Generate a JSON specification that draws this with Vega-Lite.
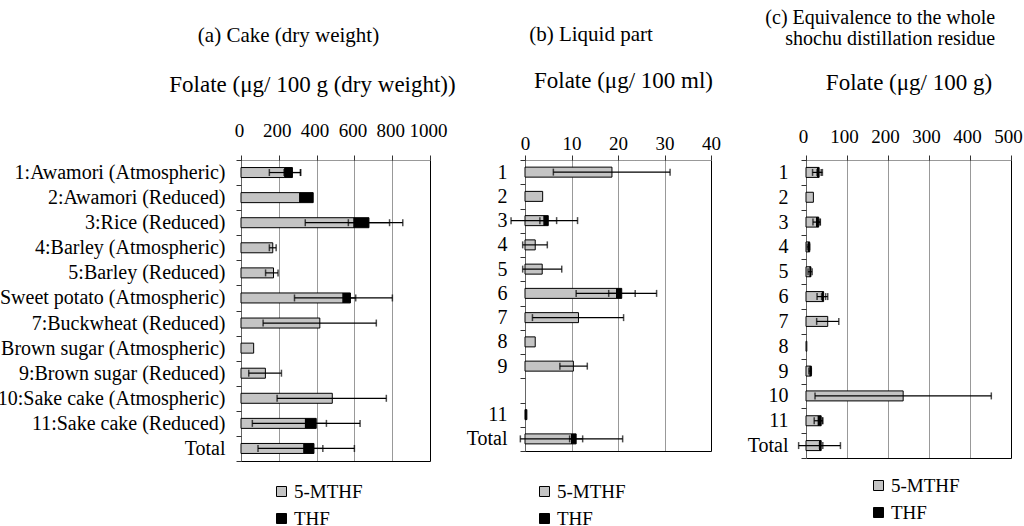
{
  "$schema": "https://vega.github.io/schema/vega-lite/v6.json",
  "padding": {"left": -17, "top": 8, "right": 0, "bottom": 0},
  "background": "white",
  "config": {
    "font": "Liberation Serif",
    "view": {"stroke": null},
    "title": {"font": "Liberation Serif", "fontSize": 21, "fontWeight": "normal", "color": "black"},
    "axis": {"labelFont": "Liberation Serif", "titleFont": "Liberation Serif", "labelColor": "black", "titleColor": "black", "titleFontWeight": "normal"},
    "legend": {"labelFont": "Liberation Serif", "labelFontSize": 19, "labelColor": "black", "symbolType": "square", "symbolSize": 100, "symbolStrokeColor": "black", "symbolStrokeWidth": 1, "rowPadding": 7, "labelOffset": 3, "title": null}
  },
  "datasets": {
    "a": [
      {"cat": "1:Awamori (Atmospheric)", "comp": "5-MTHF", "v": 232, "lo": 150, "hi": 314},
      {"cat": "1:Awamori (Atmospheric)", "comp": "THF", "v": 40, "lo": 228, "hi": 316},
      {"cat": "2:Awamori (Reduced)", "comp": "5-MTHF", "v": 311},
      {"cat": "2:Awamori (Reduced)", "comp": "THF", "v": 71},
      {"cat": "3:Rice (Reduced)", "comp": "5-MTHF", "v": 598, "lo": 340, "hi": 856},
      {"cat": "3:Rice (Reduced)", "comp": "THF", "v": 79, "lo": 568, "hi": 786},
      {"cat": "4:Barley (Atmospheric)", "comp": "5-MTHF", "v": 168, "lo": 150, "hi": 186},
      {"cat": "5:Barley (Reduced)", "comp": "5-MTHF", "v": 172, "lo": 130, "hi": 196},
      {"cat": "6:Sweet potato (Atmospheric)", "comp": "5-MTHF", "v": 540, "lo": 283, "hi": 801},
      {"cat": "6:Sweet potato (Atmospheric)", "comp": "THF", "v": 39, "lo": 547, "hi": 607},
      {"cat": "7:Buckwheat (Reduced)", "comp": "5-MTHF", "v": 417, "lo": 117, "hi": 716},
      {"cat": "8:Brown sugar (Atmospheric)", "comp": "5-MTHF", "v": 67},
      {"cat": "9:Brown sugar (Reduced)", "comp": "5-MTHF", "v": 129, "lo": 41, "hi": 214},
      {"cat": "10:Sake cake (Atmospheric)", "comp": "5-MTHF", "v": 483, "lo": 191, "hi": 769},
      {"cat": "11:Sake cake (Reduced)", "comp": "5-MTHF", "v": 341, "lo": 60, "hi": 630},
      {"cat": "11:Sake cake (Reduced)", "comp": "THF", "v": 57, "lo": 344, "hi": 452},
      {"cat": "Total", "comp": "5-MTHF", "v": 333, "lo": 90, "hi": 600},
      {"cat": "Total", "comp": "THF", "v": 53, "lo": 339, "hi": 433}
    ],
    "b": [
      {"cat": "1", "comp": "5-MTHF", "v": 18.7, "lo": 6.1, "hi": 31.2},
      {"cat": "2", "comp": "5-MTHF", "v": 3.8},
      {"cat": "3", "comp": "5-MTHF", "v": 4.1, "lo": -3.0, "hi": 11.3},
      {"cat": "3", "comp": "THF", "v": 0.9, "lo": 3.2, "hi": 6.8},
      {"cat": "4", "comp": "5-MTHF", "v": 2.2, "lo": -0.5, "hi": 4.8},
      {"cat": "5", "comp": "5-MTHF", "v": 3.7, "lo": -0.5, "hi": 7.9},
      {"cat": "6", "comp": "5-MTHF", "v": 19.7, "lo": 11.0, "hi": 28.3},
      {"cat": "6", "comp": "THF", "v": 1.1, "lo": 18.0, "hi": 23.7},
      {"cat": "7", "comp": "5-MTHF", "v": 11.5, "lo": 1.6, "hi": 21.2},
      {"cat": "8", "comp": "5-MTHF", "v": 2.2},
      {"cat": "9", "comp": "5-MTHF", "v": 10.4, "lo": 7.5, "hi": 13.4},
      {"cat": "11", "comp": "5-MTHF", "v": 0.1},
      {"cat": "11", "comp": "THF", "v": 0.3},
      {"cat": "Total", "comp": "5-MTHF", "v": 10.0, "lo": -1.0, "hi": 21.0},
      {"cat": "Total", "comp": "THF", "v": 1.0, "lo": 9.6, "hi": 12.4}
    ],
    "c": [
      {"cat": "1", "comp": "5-MTHF", "v": 28, "lo": 16, "hi": 40},
      {"cat": "1", "comp": "THF", "v": 4, "lo": 27, "hi": 37},
      {"cat": "2", "comp": "5-MTHF", "v": 18},
      {"cat": "3", "comp": "5-MTHF", "v": 26, "lo": 17, "hi": 35},
      {"cat": "3", "comp": "THF", "v": 5, "lo": 28, "hi": 34},
      {"cat": "4", "comp": "5-MTHF", "v": 6, "lo": 3, "hi": 9},
      {"cat": "4", "comp": "THF", "v": 3},
      {"cat": "5", "comp": "5-MTHF", "v": 10, "lo": 5, "hi": 15},
      {"cat": "5", "comp": "THF", "v": 2},
      {"cat": "6", "comp": "5-MTHF", "v": 40, "lo": 27, "hi": 53},
      {"cat": "6", "comp": "THF", "v": 3, "lo": 38, "hi": 48},
      {"cat": "7", "comp": "5-MTHF", "v": 53, "lo": 26, "hi": 80},
      {"cat": "8", "comp": "5-MTHF", "v": 2},
      {"cat": "9", "comp": "5-MTHF", "v": 10, "lo": 7, "hi": 13},
      {"cat": "9", "comp": "THF", "v": 3},
      {"cat": "10", "comp": "5-MTHF", "v": 237, "lo": 22, "hi": 452},
      {"cat": "11", "comp": "5-MTHF", "v": 30, "lo": 20, "hi": 40},
      {"cat": "11", "comp": "THF", "v": 7, "lo": 33, "hi": 41},
      {"cat": "Total", "comp": "5-MTHF", "v": 33, "lo": -18, "hi": 84},
      {"cat": "Total", "comp": "THF", "v": 4, "lo": 33, "hi": 41}
    ]
  },
  "hconcat": [
    {
      "width": 189, "height": 301,
      "data": {"name": "a"},
      "title": {"text": "(a) Cake (dry weight)", "anchor": "middle", "dx": -47, "offset": 27},
      "layer": [
        {
          "mark": {"type": "bar", "size": 10, "stroke": "black", "strokeWidth": 1},
          "encoding": {
            "y": {"field": "cat", "type": "nominal", "sort": null,
              "scale": {"domain": ["1:Awamori (Atmospheric)", "2:Awamori (Reduced)", "3:Rice (Reduced)", "4:Barley (Atmospheric)", "5:Barley (Reduced)", "6:Sweet potato (Atmospheric)", "7:Buckwheat (Reduced)", "8:Brown sugar (Atmospheric)", "9:Brown sugar (Reduced)", "10:Sake cake (Atmospheric)", "11:Sake cake (Reduced)", "Total"], "paddingInner": 0, "paddingOuter": 0},
              "axis": {"title": null, "labelFontSize": 20, "labelLimit": 0, "tickBand": "extent", "tickSize": 5, "tickColor": "#333", "labelPadding": 11, "domainColor": "#333", "domainDash": [1, 1]}},
            "x": {"field": "v", "type": "quantitative", "stack": "zero",
              "scale": {"domain": [0, 1000], "nice": false},
              "axis": {"orient": "top", "values": [0, 200, 400, 600, 800, 1000], "format": "d", "title": "Folate (μg/ 100 g (dry weight))", "titleX": 71, "titleFontSize": 23, "titlePadding": 25, "labelFontSize": 19, "labelPadding": 15, "labelOffset": -2, "tickSize": 5, "tickColor": "#333", "domainColor": "#333", "domainDash": [1, 1], "grid": true, "gridColor": {"condition": {"test": "datum.value == 1000", "value": "black"}, "value": "#333"}, "gridDash": {"condition": {"test": "datum.value == 1000", "value": []}, "value": [1, 1]}, "labelFlush": false}},
            "color": {"field": "comp", "type": "nominal", "scale": {"domain": ["5-MTHF", "THF"], "range": ["#c4c4c4", "#000000"]},
              "legend": {"orient": "none", "legendX": 31, "legendY": 322, "direction": "vertical"}}
          }
        },
        {
          "transform": [{"filter": "isValid(datum.lo)"}],
          "mark": {"type": "rule", "color": "black", "strokeWidth": 1.2},
          "encoding": {
            "y": {"field": "cat", "type": "nominal", "sort": null},
            "x": {"field": "lo", "type": "quantitative", "axis": {"orient": "bottom", "labels": false, "ticks": false, "grid": false, "title": null, "domainColor": "black", "domainWidth": 1.2}},
            "x2": {"field": "hi"}
          }
        },
        {
          "transform": [{"filter": "isValid(datum.lo)"}],
          "mark": {"type": "tick", "orient": "vertical", "size": 7, "thickness": 1.5, "color": "black"},
          "encoding": {"y": {"field": "cat", "type": "nominal", "sort": null}, "x": {"field": "lo", "type": "quantitative", "axis": null}}
        },
        {
          "transform": [{"filter": "isValid(datum.hi)"}],
          "mark": {"type": "tick", "orient": "vertical", "size": 7, "thickness": 1.5, "color": "black"},
          "encoding": {"y": {"field": "cat", "type": "nominal", "sort": null}, "x": {"field": "hi", "type": "quantitative", "axis": null}}
        }
      ],
      "resolve": {"axis": {"x": "independent"}}
    },
    {
      "width": 186, "height": 291,
      "data": {"name": "b"},
      "title": {"text": "(b) Liquid part", "anchor": "middle", "dx": -27, "offset": 24},
      "layer": [
        {
          "mark": {"type": "bar", "size": 10, "stroke": "black", "strokeWidth": 1},
          "encoding": {
            "y": {"field": "cat", "type": "nominal", "sort": null,
              "scale": {"domain": ["1", "2", "3", "4", "5", "6", "7", "8", "9", "10", "11", "Total"], "paddingInner": 0, "paddingOuter": 0},
              "axis": {"title": null, "labelFontSize": 20, "labelLimit": 0, "labelExpr": "datum.value == '10' ? '' : datum.value", "tickBand": "extent", "tickSize": 5, "tickColor": "#333", "labelPadding": 13, "domainColor": "#333", "domainDash": [1, 1]}},
            "x": {"field": "v", "type": "quantitative", "stack": "zero",
              "scale": {"domain": [0, 40], "nice": false},
              "axis": {"orient": "top", "values": [0, 10, 20, 30, 40], "title": "Folate (μg/ 100 ml)", "titleX": 98, "titleFontSize": 23, "titlePadding": 42, "labelFontSize": 19, "labelPadding": 2, "tickSize": 5, "tickColor": "#333", "domainColor": "#333", "domainDash": [1, 1], "grid": true, "gridColor": {"condition": {"test": "datum.value == 40", "value": "black"}, "value": "#333"}, "gridDash": {"condition": {"test": "datum.value == 40", "value": []}, "value": [1, 1]}, "labelFlush": false}},
            "color": {"field": "comp", "type": "nominal", "scale": {"domain": ["5-MTHF", "THF"], "range": ["#c4c4c4", "#000000"]},
              "legend": {"orient": "none", "legendX": 10, "legendY": 322, "direction": "vertical"}}
          }
        },
        {
          "transform": [{"filter": "isValid(datum.lo)"}],
          "mark": {"type": "rule", "color": "black", "strokeWidth": 1.2},
          "encoding": {
            "y": {"field": "cat", "type": "nominal", "sort": null},
            "x": {"field": "lo", "type": "quantitative", "axis": {"orient": "bottom", "labels": false, "ticks": false, "grid": false, "title": null, "domainColor": "black", "domainWidth": 1.2}},
            "x2": {"field": "hi"}
          }
        },
        {
          "transform": [{"filter": "isValid(datum.lo)"}],
          "mark": {"type": "tick", "orient": "vertical", "size": 7, "thickness": 1.5, "color": "black"},
          "encoding": {"y": {"field": "cat", "type": "nominal", "sort": null}, "x": {"field": "lo", "type": "quantitative", "axis": null}}
        },
        {
          "transform": [{"filter": "isValid(datum.hi)"}],
          "mark": {"type": "tick", "orient": "vertical", "size": 7, "thickness": 1.5, "color": "black"},
          "encoding": {"y": {"field": "cat", "type": "nominal", "sort": null}, "x": {"field": "hi", "type": "quantitative", "axis": null}}
        }
      ],
      "resolve": {"axis": {"x": "independent"}}
    },
    {
      "width": 205, "height": 298,
      "data": {"name": "c"},
      "title": {"text": ["(c) Equivalence to the whole", "shochu distillation residue"], "fontSize": 20, "anchor": "end", "align": "right", "dx": -27, "offset": 22, "lineHeight": 21},
      "layer": [
        {
          "mark": {"type": "bar", "size": 10, "stroke": "black", "strokeWidth": 1},
          "encoding": {
            "y": {"field": "cat", "type": "nominal", "sort": null,
              "scale": {"domain": ["1", "2", "3", "4", "5", "6", "7", "8", "9", "10", "11", "Total"], "paddingInner": 0, "paddingOuter": 0},
              "axis": {"title": null, "labelFontSize": 20, "labelLimit": 0, "tickBand": "extent", "tickSize": 5, "tickColor": "#333", "labelPadding": 13, "domainColor": "#333", "domainDash": [1, 1]}},
            "x": {"field": "v", "type": "quantitative", "stack": "zero",
              "scale": {"domain": [0, 500], "nice": false},
              "axis": {"orient": "top", "values": [0, 100, 200, 300, 400, 500], "title": "Folate (μg/ 100 g)", "titleFontSize": 23, "titlePadding": 33, "labelFontSize": 19, "labelPadding": 9, "labelOffset": -3, "tickSize": 5, "tickColor": "#333", "domainColor": "#333", "domainDash": [1, 1], "grid": true, "gridColor": {"condition": {"test": "datum.value == 500", "value": "black"}, "value": "#333"}, "gridDash": {"condition": {"test": "datum.value == 500", "value": []}, "value": [1, 1]}, "labelFlush": false}},
            "color": {"field": "comp", "type": "nominal", "scale": {"domain": ["5-MTHF", "THF"], "range": ["#c4c4c4", "#000000"]},
              "legend": {"orient": "none", "legendX": 63, "legendY": 316, "direction": "vertical"}}
          }
        },
        {
          "transform": [{"filter": "isValid(datum.lo)"}],
          "mark": {"type": "rule", "color": "black", "strokeWidth": 1.2},
          "encoding": {
            "y": {"field": "cat", "type": "nominal", "sort": null},
            "x": {"field": "lo", "type": "quantitative", "axis": {"orient": "bottom", "labels": false, "ticks": false, "grid": false, "title": null, "domainColor": "black", "domainWidth": 1.2}},
            "x2": {"field": "hi"}
          }
        },
        {
          "transform": [{"filter": "isValid(datum.lo)"}],
          "mark": {"type": "tick", "orient": "vertical", "size": 7, "thickness": 1.5, "color": "black"},
          "encoding": {"y": {"field": "cat", "type": "nominal", "sort": null}, "x": {"field": "lo", "type": "quantitative", "axis": null}}
        },
        {
          "transform": [{"filter": "isValid(datum.hi)"}],
          "mark": {"type": "tick", "orient": "vertical", "size": 7, "thickness": 1.5, "color": "black"},
          "encoding": {"y": {"field": "cat", "type": "nominal", "sort": null}, "x": {"field": "hi", "type": "quantitative", "axis": null}}
        }
      ],
      "resolve": {"axis": {"x": "independent"}}
    }
  ],
  "spacing": 95,
  "bounds": "flush",
  "resolve": {"scale": {"color": "independent", "x": "independent", "y": "independent"}, "legend": {"color": "independent"}}
}
